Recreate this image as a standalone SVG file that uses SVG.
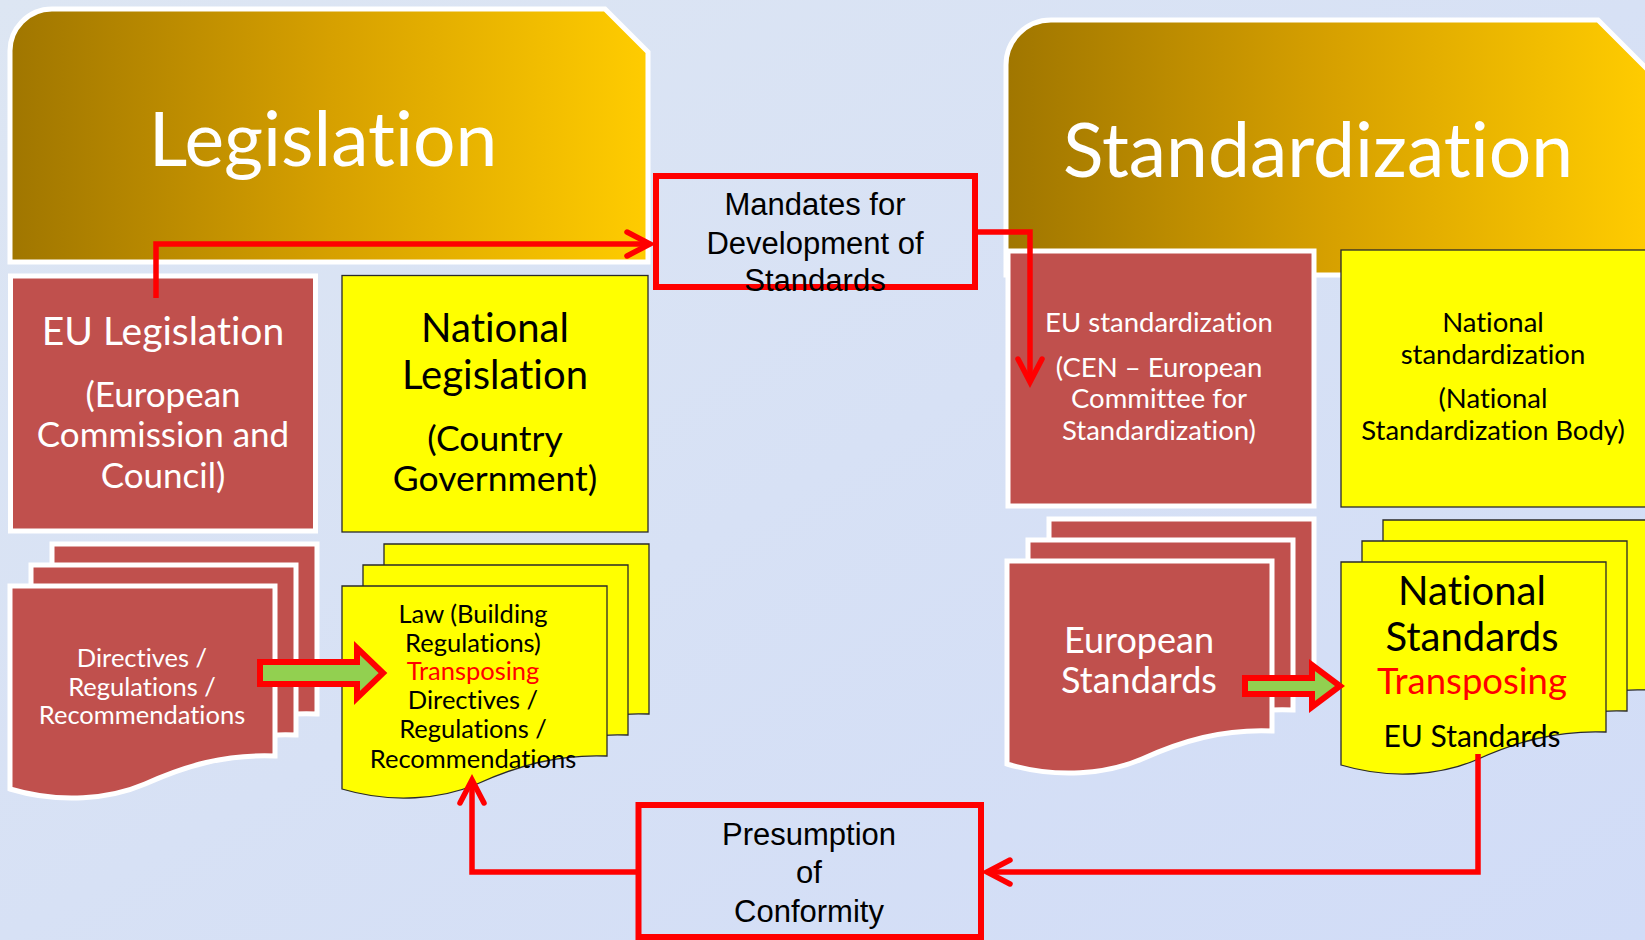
<svg xmlns="http://www.w3.org/2000/svg" xmlns:xlink="http://www.w3.org/1999/xlink" width="1645" height="940" viewBox="0 0 1645 940">
<style>
.cal{font-family:Lato,"Open Sans",sans-serif;text-anchor:middle;font-variant-ligatures:none}
.ari{font-family:"Liberation Sans",Arial,sans-serif;text-anchor:middle;fill:#000}
.w{fill:#fff}
.k{fill:#000}
.r{fill:#ff0000}
.redbox{fill:#c0504d;stroke:#fff;stroke-width:5}
.yelbox{fill:#ffff00;stroke:#2a2a2a;stroke-width:1.3}
.frame{fill:none;stroke:#ff0000;stroke-width:6}
.conn{fill:none;stroke:#ff0000;stroke-width:5.5;stroke-linejoin:miter}
.garrow{fill:#92d050;stroke:#ff0000;stroke-width:6;stroke-linejoin:miter}
</style>
<defs>
<linearGradient id="bg" x1="0" y1="0" x2="1" y2="1">
<stop offset="0" stop-color="#dde6f3"/>
<stop offset="1" stop-color="#d1dcf7"/>
</linearGradient>
<linearGradient id="goldL" gradientUnits="userSpaceOnUse" x1="10" y1="0" x2="648" y2="0">
<stop offset="0" stop-color="#a07600"/>
<stop offset="0.5" stop-color="#d6a000"/>
<stop offset="1" stop-color="#ffcc00"/>
</linearGradient>
<linearGradient id="goldR" gradientUnits="userSpaceOnUse" x1="1006" y1="0" x2="1650" y2="0">
<stop offset="0" stop-color="#a07600"/>
<stop offset="0.5" stop-color="#d6a000"/>
<stop offset="1" stop-color="#ffcc00"/>
</linearGradient>
<path id="doc" d="M0,0 H265 V170 C215,168 175,180 135,198 C100,213 50,218 0,203 Z"/>
<marker id="chev" markerUnits="userSpaceOnUse" markerWidth="34" markerHeight="34" viewBox="-28 -17 34 34" refX="0" refY="0" orient="auto" overflow="visible">
<path d="M-23,-12 L0,0 L-23,12" fill="none" stroke="#ff0000" stroke-width="5.5" stroke-linecap="round" stroke-linejoin="miter"/>
</marker>
</defs>

<rect x="0" y="0" width="1645" height="940" fill="url(#bg)"/>

<g id="legislation">
<path d="M10,52 A42,42 0 0 1 52,9 L605,9 L648,52 L648,262 L10,262 Z" fill="url(#goldL)" stroke="#fff" stroke-width="5"/>
<text class="cal w" x="323" y="166" font-size="75">Legislation</text>
</g>

<g id="standardization">
<path d="M1006,65 A45,45 0 0 1 1051,20 L1598,20 L1660,82 L1660,275 L1006,275 Z" fill="url(#goldR)" stroke="#fff" stroke-width="5"/>
<text class="cal w" x="1318" y="177" font-size="75">Standardization</text>
</g>

<g id="eu-legislation">
<rect class="redbox" x="10.5" y="276" width="305" height="255"/>
<text class="cal w" x="163" y="345" font-size="39">EU Legislation</text>
<text class="cal w" x="163" y="407" font-size="35">(European</text>
<text class="cal w" x="163" y="447" font-size="35">Commission and</text>
<text class="cal w" x="163" y="488" font-size="35">Council)</text>
</g>

<g id="national-legislation">
<rect class="yelbox" x="342" y="275.5" width="306" height="256.5"/>
<text class="cal k" x="495" y="342" font-size="40">National</text>
<text class="cal k" x="495" y="389" font-size="40">Legislation</text>
<text class="cal k" x="495" y="451" font-size="35.5">(Country</text>
<text class="cal k" x="495" y="491" font-size="35.5">Government)</text>
</g>

<g id="eu-standardization">
<rect class="redbox" x="1008" y="251" width="306" height="255"/>
<text class="cal w" x="1159" y="332" font-size="27.5">EU standardization</text>
<text class="cal w" x="1159" y="377" font-size="27.5">(CEN – European</text>
<text class="cal w" x="1159" y="408" font-size="27.5">Committee for</text>
<text class="cal w" x="1159" y="440" font-size="27.5">Standardization)</text>
</g>

<g id="national-standardization">
<rect class="yelbox" x="1341" y="250" width="320" height="257"/>
<text class="cal k" x="1493" y="332" font-size="27.5">National</text>
<text class="cal k" x="1493" y="364" font-size="27.5">standardization</text>
<text class="cal k" x="1493" y="408" font-size="27.5">(National</text>
<text class="cal k" x="1493" y="440" font-size="27.5">Standardization Body)</text>
</g>

<g id="directives-eu">
<use href="#doc" xlink:href="#doc" x="52" y="544" class="redbox"/>
<use href="#doc" xlink:href="#doc" x="31" y="565" class="redbox"/>
<use href="#doc" xlink:href="#doc" x="10" y="586" class="redbox"/>
<text class="cal w" x="142" y="667" font-size="25.5">Directives /</text>
<text class="cal w" x="142" y="696" font-size="25.5">Regulations /</text>
<text class="cal w" x="142" y="724" font-size="25.5">Recommendations</text>
</g>

<g id="law-national">
<use href="#doc" xlink:href="#doc" x="384" y="544" class="yelbox"/>
<use href="#doc" xlink:href="#doc" x="363" y="565" class="yelbox"/>
<use href="#doc" xlink:href="#doc" x="342" y="586" class="yelbox"/>
<text class="cal k" x="473" y="623" font-size="25.5">Law (Building</text>
<text class="cal k" x="473" y="652" font-size="25.5">Regulations)</text>
<text class="cal r" x="473" y="680" font-size="25.5">Transposing</text>
<text class="cal k" x="473" y="709" font-size="25.5">Directives /</text>
<text class="cal k" x="473" y="738" font-size="25.5">Regulations /</text>
<text class="cal k" x="473" y="768" font-size="25.5">Recommendations</text>
</g>

<g id="european-standards">
<use href="#doc" xlink:href="#doc" x="1049" y="519" class="redbox"/>
<use href="#doc" xlink:href="#doc" x="1028" y="540" class="redbox"/>
<use href="#doc" xlink:href="#doc" x="1007" y="561" class="redbox"/>
<text class="cal w" x="1139" y="653" font-size="36">European</text>
<text class="cal w" x="1139" y="693" font-size="36">Standards</text>
</g>

<g id="national-standards">
<use href="#doc" xlink:href="#doc" x="1383" y="520" class="yelbox"/>
<use href="#doc" xlink:href="#doc" x="1362" y="541" class="yelbox"/>
<use href="#doc" xlink:href="#doc" x="1341" y="562" class="yelbox"/>
<text class="cal k" x="1472" y="605" font-size="40">National</text>
<text class="cal k" x="1472" y="651" font-size="40">Standards</text>
<text class="cal r" x="1472" y="694" font-size="36.5">Transposing</text>
<text class="cal k" x="1472" y="747" font-size="30">EU Standards</text>
</g>

<g id="mandates">
<rect class="frame" x="656" y="176" width="319" height="111"/>
<text class="ari" x="815" y="215" font-size="31">Mandates for</text>
<text class="ari" x="815" y="254" font-size="31">Development of</text>
<text class="ari" x="815" y="291" font-size="31">Standards</text>
</g>

<g id="presumption">
<rect class="frame" x="638.5" y="805" width="342.5" height="132" stroke-width="5"/>
<text class="ari" x="809" y="845" font-size="31">Presumption</text>
<text class="ari" x="809" y="883" font-size="31">of</text>
<text class="ari" x="809" y="922" font-size="31">Conformity</text>
</g>

<g id="connectors">
<polygon class="garrow" points="260,662 357,662 357,648 383,673 357,698 357,684 260,684"/>
<polygon class="garrow" points="1245,678 1312,678 1312,665 1340,686 1312,707 1312,694 1245,694"/>
<polyline class="conn" points="156,298 156,244 650,244" marker-end="url(#chev)"/>
<polyline class="conn" points="975,232 1030,232 1030,382" marker-end="url(#chev)"/>
<polyline class="conn" points="1478,754 1478,872 987,872" marker-end="url(#chev)"/>
<polyline class="conn" points="638,872 472,872 472,780" marker-end="url(#chev)"/>
</g>
</svg>
